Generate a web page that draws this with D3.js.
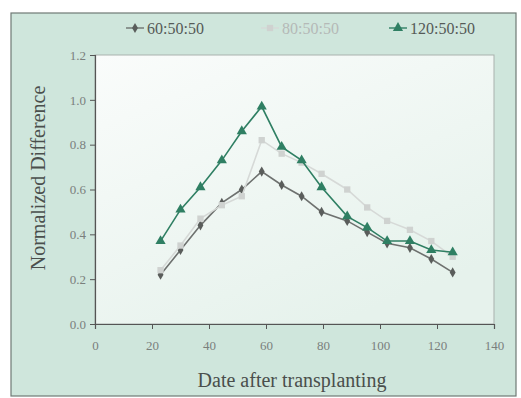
<!DOCTYPE html>
<html>
<head>
<meta charset="utf-8">
<script src="https://cdn.jsdelivr.net/npm/d3@7/dist/d3.min.js"></script>
<style>
  body { margin: 0; background: #fff; }
  text { font-family: "Liberation Serif", "DejaVu Serif", serif; }
</style>
</head>
<body>
<div id="chart"></div>
<script>
// days after transplanting
var days = [23, 30, 37, 44.5, 51.5, 58.5, 65.5, 72.5, 79.5, 88.5, 95.5, 102.5, 110.5, 118, 125.5];
var s60 = [0.22, 0.33, 0.44, 0.54, 0.60, 0.68, 0.62, 0.57, 0.50, 0.46, 0.41, 0.36, 0.34, 0.29, 0.23];
var s80 = [0.24, 0.35, 0.47, 0.53, 0.57, 0.82, 0.76, 0.72, 0.67, 0.60, 0.52, 0.46, 0.42, 0.37, 0.30];
var s120 = [0.37, 0.51, 0.61, 0.73, 0.86, 0.97, 0.79, 0.73, 0.61, 0.48, 0.43, 0.37, 0.37, 0.33, 0.32];
var xTicks = [0, 20, 40, 60, 80, 100, 120, 140];
var yTicks = [0.0, 0.2, 0.4, 0.6, 0.8, 1.0, 1.2];
var seriesNames = ["60:50:50", "80:50:50", "120:50:50"];

(function() {
	var width = 521, height = 398;
	var plot = {left: 95, right: 494, top: 55, bottom: 324};

	var svg = d3.select("#chart").append("svg")
		.attr("width", width)
		.attr("height", height);

	// outer panel
	svg.append("rect")
		.attr("x", 11).attr("y", 13)
		.attr("width", 505).attr("height", 383)
		.attr("fill", "#cfe6dc")
		.attr("stroke", "#6f7a75").attr("stroke-width", 1.2);

	var grad = svg.append("defs").append("linearGradient")
		.attr("id", "pg").attr("x1", 0).attr("y1", 0).attr("x2", 0.6).attr("y2", 1);
	grad.append("stop").attr("offset", 0).attr("stop-color", "#fafcfb");
	grad.append("stop").attr("offset", 1).attr("stop-color", "#e6f2ec");

	svg.append("rect")
		.attr("x", plot.left).attr("y", plot.top)
		.attr("width", plot.right - plot.left).attr("height", plot.bottom - plot.top)
		.attr("fill", "url(#pg)")
		.attr("stroke", "#a9b1ad").attr("stroke-width", 1);

	var x = d3.scaleLinear().domain([0, 140]).range([plot.left, plot.right]);
	var y = d3.scaleLinear().domain([0, 1.2]).range([plot.bottom, plot.top]);

	var xAxis = svg.append("g")
		.attr("transform", "translate(0," + plot.bottom + ")")
		.call(d3.axisBottom(x).tickValues(xTicks).tickSize(5).tickPadding(12)
			.tickFormat(d3.format("d")));
	var yAxis = svg.append("g")
		.attr("transform", "translate(" + plot.left + ",0)")
		.call(d3.axisLeft(y).tickValues(yTicks).tickSize(5).tickPadding(4)
			.tickFormat(d3.format(".1f")));

	[xAxis, yAxis].forEach(function(a) {
		a.select(".domain").attr("stroke", "#555").attr("stroke-width", 1.2);
		a.selectAll(".tick line").attr("stroke", "#555");
		a.selectAll(".tick text")
			.attr("fill", "#7a7f7c")
			.style("font-size", "13px")
			.style("font-family", "'Liberation Serif', serif");
	});

	// axis titles
	svg.append("text")
		.attr("x", 292).attr("y", 387)
		.attr("text-anchor", "middle")
		.attr("fill", "#4a4f4c")
		.style("font-size", "20px")
		.text("Date after transplanting");

	svg.append("text")
		.attr("transform", "translate(45,178) rotate(-90)")
		.attr("text-anchor", "middle")
		.attr("fill", "#4a4f4c")
		.style("font-size", "20px")
		.text("Normalized Difference");

	var series = [
		{name: seriesNames[0], values: s60, color: "#5a5d5b", line: "#6e716f", shape: d3.symbolDiamond, size: 30},
		{name: seriesNames[1], values: s80, color: "#cfd2d0", line: "#d6d9d7", shape: d3.symbolSquare, size: 40},
		{name: seriesNames[2], values: s120, color: "#2f7f63", line: "#2f7f63", shape: d3.symbolTriangle, size: 45}
	];

	var line = d3.line()
		.x(function(d) { return x(d[0]); })
		.y(function(d) { return y(d[1]); });

	series.forEach(function(s) {
		var pts = days.map(function(d, i) { return [d, s.values[i]]; });
		var g = svg.append("g");
		g.append("path")
			.datum(pts)
			.attr("d", line)
			.attr("fill", "none")
			.attr("stroke", s.line)
			.attr("stroke-width", 1.6);
		g.selectAll("path.pt")
			.data(pts)
			.enter().append("path")
			.attr("class", "pt")
			.attr("transform", function(d) { return "translate(" + x(d[0]) + "," + y(d[1]) + ")"; })
			.attr("d", d3.symbol().type(s.shape).size(s.size))
			.attr("fill", s.color);
	});

	// legend
	var legendX = [126, 261, 389];
	series.forEach(function(s, i) {
		var g = svg.append("g").attr("transform", "translate(" + legendX[i] + ",28)");
		g.append("line")
			.attr("x1", 0).attr("x2", 18)
			.attr("stroke", s.line).attr("stroke-width", 1.4);
		g.append("path")
			.attr("transform", "translate(9,0)")
			.attr("d", d3.symbol().type(s.shape).size(s.size))
			.attr("fill", s.color);
		g.append("text")
			.attr("x", 21).attr("y", 6)
			.attr("fill", i == 1 ? "#b5b9b7" : "#555a57")
			.style("font-size", "16px")
			.text(s.name);
	});
})();
</script>
</body>
</html>
